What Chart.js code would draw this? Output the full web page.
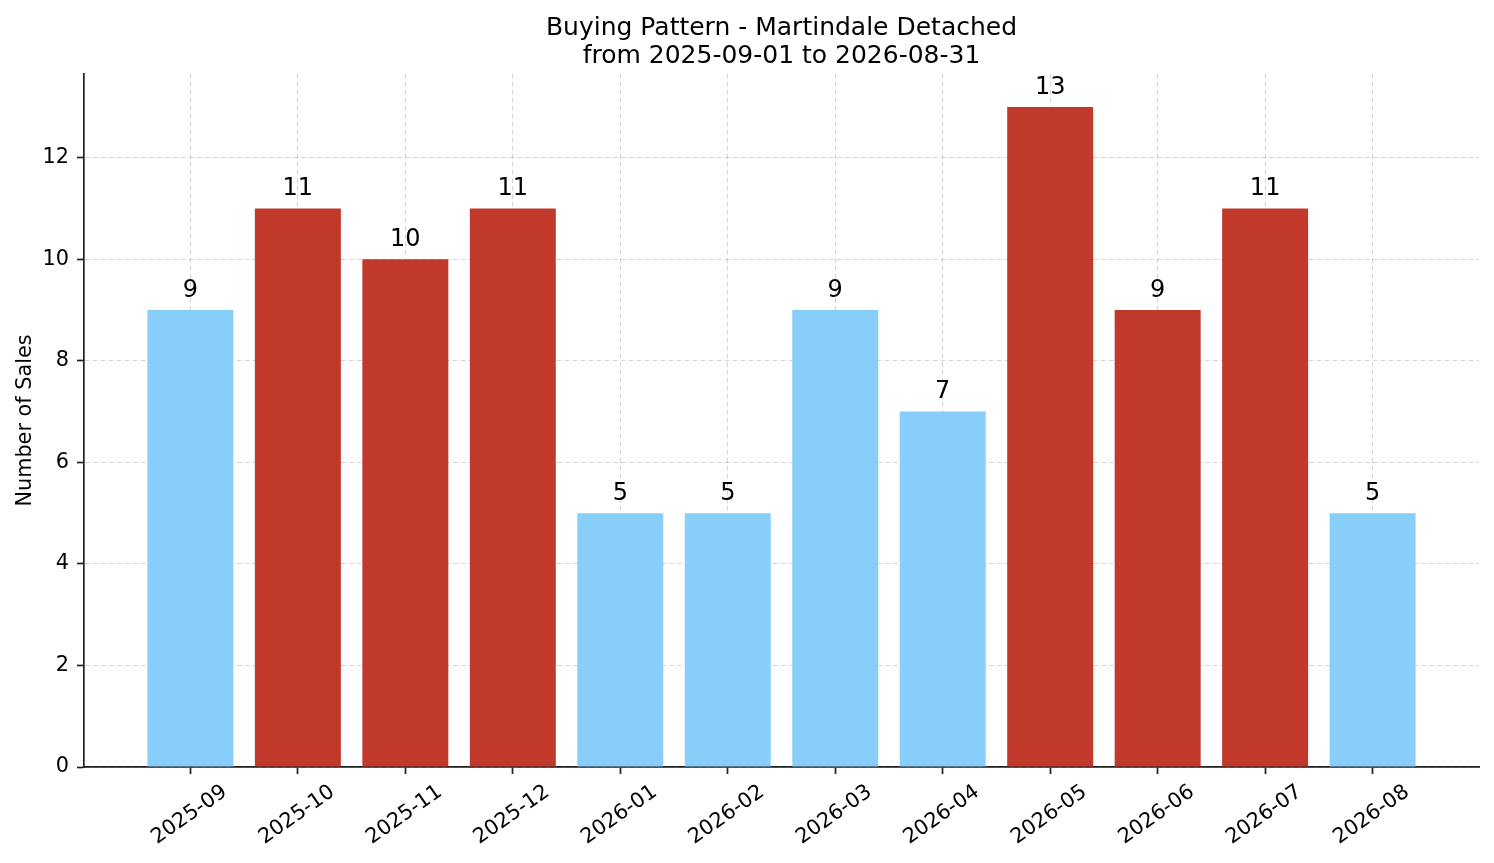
<!DOCTYPE html>
<html>
<head>
<meta charset="utf-8">
<title>Buying Pattern - Martindale Detached</title>
<script src="https://cdn.jsdelivr.net/npm/chart.js@4.4.1/dist/chart.umd.min.js"></script>
<style>
  html, body { margin: 0; padding: 0; background: #fff; }
  canvas { display: block; }
</style>
</head>
<body>
<canvas id="myChart" width="1494" height="863"></canvas>
<script>
// data
const months = ["2025-09", "2025-10", "2025-11", "2025-12", "2026-01", "2026-02",
                "2026-03", "2026-04", "2026-05", "2026-06", "2026-07", "2026-08"];
const sales = [9, 11, 10, 11, 5, 5, 9, 7, 13, 9, 11, 5];
const peakMonths = ["2025-10", "2025-11", "2025-12", "2026-05", "2026-06", "2026-07"];
const yTicks = [0, 2, 4, 6, 8, 10, 12];

const FONT = '"DejaVu Sans", sans-serif';
const gridColor = "rgba(160,160,160,0.45)";

const barColors = months.map(m => peakMonths.includes(m) ? "#c0392b" : "#87cefa");

// value on top of each bar + rotated month labels
const labelsPlugin = {
  id: "labelsPlugin",
  afterDraw(chart) {
    const ctx = chart.ctx;
    const meta = chart.getDatasetMeta(0);
    const xScale = chart.scales.x;
    ctx.save();
    ctx.fillStyle = "#000";
    ctx.font = "24px " + FONT;
    ctx.textAlign = "center";
    ctx.textBaseline = "alphabetic";
    meta.data.forEach((bar, i) => {
      ctx.fillText(String(sales[i]), bar.x, bar.y - 13.5);
    });

    ctx.font = "20.8px " + FONT;
    ctx.textBaseline = "middle";
    months.forEach((m, i) => {
      const px = xScale.getPixelForValue(i);
      ctx.save();
      ctx.translate(px - 1, xScale.top + 48);
      ctx.rotate(-35 * Math.PI / 180);
      ctx.fillText(m, 0, 0);
      ctx.restore();
    });
    ctx.restore();
  }
};

const config = {
  type: "bar",
  data: {
    datasets: [{
      label: "Number of Sales",
      data: sales.map((v, i) => ({ x: i, y: v })),
      backgroundColor: barColors,
      borderWidth: 0,
      barPercentage: 0.8,
      categoryPercentage: 1.0
    }]
  },
  options: {
    responsive: false,
    animation: false,
    devicePixelRatio: 1,
    layout: { padding: { left: 0, right: 15, top: 0, bottom: 0 } },
    plugins: {
      legend: { display: false },
      tooltip: { enabled: false },
      title: {
        display: true,
        fullSize: false,
        text: ["Buying Pattern - Martindale Detached", "from 2025-09-01 to 2026-08-31"],
        color: "#000",
        font: { family: FONT, size: 25, weight: "normal", lineHeight: 1.12 },
        padding: { top: 14, bottom: 4 }
      }
    },
    scales: {
      x: {
        type: "linear",
        min: -0.99,
        max: 11.99,
        offset: false,
        z: 1,
        afterBuildTicks: scale => { scale.ticks = months.map((m, i) => ({ value: i })); },
        afterFit: scale => { scale.height = 96; },
        ticks: { display: false },
        grid: {
          offset: false,
          color: gridColor,
          lineWidth: 1,
          borderDash: [5, 3],
          drawTicks: true,
          tickLength: 7,
          tickColor: "#222",
          tickWidth: 1.7,
          tickBorderDash: []
        },
        border: { display: true, color: "#222", width: 1.7, dash: [5, 3] }
      },
      y: {
        min: 0,
        max: 13.65,
        z: 1,
        afterBuildTicks: scale => { scale.ticks = yTicks.map(v => ({ value: v })); },
        afterFit: scale => { scale.width = 84; },
        ticks: {
          color: "#000",
          padding: 8,
          font: { family: FONT, size: 20.8 }
        },
        title: {
          display: true,
          text: "Number of Sales",
          color: "#000",
          font: { family: FONT, size: 20.8 },
          padding: { top: 13, bottom: 0 }
        },
        grid: {
          color: gridColor,
          lineWidth: 1,
          borderDash: [5, 3],
          drawTicks: true,
          tickLength: 7,
          tickColor: "#222",
          tickWidth: 1.7,
          tickBorderDash: []
        },
        border: { display: true, color: "#222", width: 1.7, dash: [5, 3] }
      }
    }
  },
  plugins: [labelsPlugin]
};

const myChart = document.getElementById("myChart");
new Chart(myChart, config);
</script>
</body>
</html>
